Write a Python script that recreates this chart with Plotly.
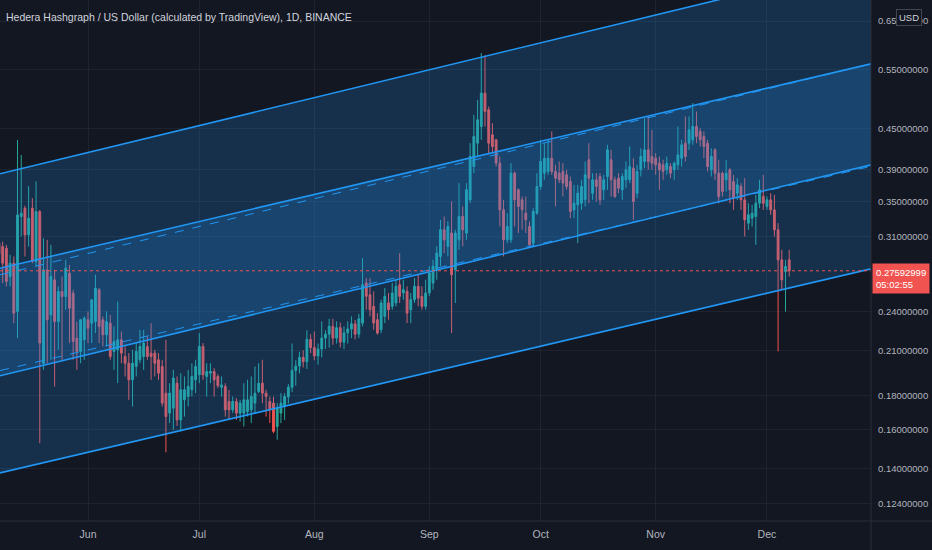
import numpy as np
import pandas as pd
import plotly.graph_objects as go

# HBAR/USD daily candles, 2021-05-08 .. 2021-12-07 (one row per month)
opens = [
    .3033, .2999, .2982, .2706, .2832, .2400, .3324, .3420, .3121, .3420, .2848, .3381, .2009, .2768, .2372, .2675, .2318, .2570, .2526, .2737, .2555, .2190, .2092, .2177,
    .2332, .2305, .2318, .2585, .2332, .2215, .2305, .2092, .2104, .2177, .2056, .2009, .1898, .1987, .2033, .2056, .2128, .2080, .2080, .2033, .1987, .1813, .1693, .1722, .1876, .1654, .1772, .1792, .1834, .1898,
    .1931, .2128, .1920, .1942, .1953, .1920, .1850, .1855, .1762, .1712, .1762, .1693, .1693, .1702, .1712, .1752, .1823, .1876, .1813, .1762, .1752, .1617, .1693, .1732, .179, .185, .196, .199, .205, .202, .218,
    .212, .206, .211, .219, .222, .228, .219, .227, .216, .223, .226, .230, .222, .2306, .2646, .2542, .2442, .2333, .2254, .2360, .2471, .2442, .2471, .2630, .2557, .2571, .2414, .2499, .2616, .2528, .2442,
    .2557, .2646, .2770, .2899, .3177, .3000, .3141, .2770, .3069, .3325, .3141, .3521, .3947, .4276, .4528, .5077, .4795, .4400, .4326, .3993, .3402, .3069, .3069, .3858, .3644, .3521, .3363, .3212, .3034, .3363,
    .3685, .3858, .3880, .4061, .3880, .3858, .3880, .3836, .3749, .3401, .3460, .3480, .3520, .4039, .3602, .3771, .3814, .3643, .3814, .4039, .3771, .3792, .3643, .3771, .3771, .3925, .3600, .3903, .4016, .4179, .4085,
    .4061, .3992, .3970, .3903, .3947, .3903, .3970, .4061, .4276, .4276, .4325, .4528, .4452, .4375, .4276, .3903, .4179, .3858, .3858, .3771, .3903, .3749, .3602, .3685, .3520, .3249, .3306, .3325, .3480, .3561,
    .3441, .3520, .3401, .3176, .2865, .2753, .2865,
]
highs = [
    .3068, .3050, .3016, .2915, .2898, .4324, .4107, .3450, .3690, .3540, .3750, .3400, .3086, .3068, .3016, .2768, .2615, .2706, .2865, .2816, .2585, .2318, .2340, .2359,
    .2400, .2505, .2722, .2600, .2359, .2400, .2372, .2279, .2483, .2240, .2128, .2080, .2104, .2153, .2253, .2253, .2202, .2305, .2104, .2080, .2033, .2177, .1876, .1964, .1920, .1942, .1920, .1964, .2009, .2033,
    .2228, .2153, .2009, .2009, .1975, .1935, .1920, .1876, .1834, .1792, .1782, .1772, .1876, .1898, .1920, .1987, .2009, .2033, .1834, .1792, .1792, .1752, .1813, .1813, .187, .215, .203, .209, .210, .225, .222,
    .224, .215, .232, .225, .234, .234, .232, .231, .228, .232, .236, .233, .238, .2882, .2691, .2691, .2571, .2386, .2499, .2601, .2557, .2646, .2676, .2932, .2676, .2616, .2557, .2691, .2722, .2616, .2676,
    .2802, .2866, .3000, .3287, .3325, .3269, .3501, .3177, .3728, .3441, .3728, .4276, .4714, .4962, .5825, .5780, .4850, .4581, .4340, .4086, .3521, .3363, .3993, .3881, .3660, .3562, .3562, .3268, .3421, .3858,
    .4325, .4276, .4325, .4452, .3970, .4016, .3992, .3903, .3814, .3706, .3706, .3771, .4016, .4276, .3858, .3858, .3858, .3836, .4252, .4179, .3814, .3858, .3858, .4016, .4227, .4061, .3970, .4202, .4659, .4686, .4476,
    .4132, .4085, .4039, .4085, .3992, .4016, .4528, .4325, .4686, .4686, .4905, .4767, .4502, .4452, .4325, .4202, .4202, .4039, .3880, .4039, .3925, .3836, .3792, .3728, .3792, .3480, .3460, .3581, .3771, .3836,
    .3561, .3602, .3581, .3249, .2966, .2865, .2966,
]
lows = [
    .2768, .2645, .2615, .2615, .2305, .2190, .3103, .2898, .2999, .2832, .2800, .1527, .1964, .2009, .2033, .1855, .2104, .2033, .2413, .2153, .2033, .1964, .2009, .2033,
    .2153, .2153, .2228, .2153, .2128, .2128, .2033, .1964, .1876, .2009, .1920, .1772, .1732, .1920, .2009, .1964, .2033, .1898, .1920, .1898, .1732, .1480, .1636, .1599, .1620, .1590, .1673, .1732, .1792, .1813,
    .1876, .1898, .1792, .1876, .1792, .1845, .1792, .1673, .1654, .1693, .1654, .1645, .1617, .1673, .1636, .1693, .1813, .1752, .1673, .1636, .1580, .1545, .1636, .1654, .175, .182, .186, .194, .198, .197, .208,
    .203, .200, .205, .211, .212, .214, .215, .212, .211, .215, .219, .218, .219, .2280, .2414, .2360, .2254, .2216, .2228, .2306, .2333, .2414, .2442, .2471, .2499, .2306, .2306, .2471, .2442, .2414, .2414,
    .2528, .2586, .2676, .2802, .2932, .2899, .2228, .2471, .2966, .3000, .3069, .3481, .3858, .4086, .4326, .4528, .4132, .4132, .3947, .3213, .2899, .3035, .3035, .3213, .3141, .3177, .3141, .3000, .3000, .3344,
    .3643, .3771, .3836, .3836, .3441, .3728, .3561, .3643, .3306, .3306, .3034, .3401, .3441, .3480, .3520, .3500, .3460, .3520, .3643, .3561, .3541, .3602, .3520, .3664, .3728, .3287, .3540, .3814, .3925, .3903, .3903,
    .3836, .3643, .3771, .3836, .3792, .3771, .3903, .3947, .4016, .4179, .4252, .4276, .4227, .4061, .3880, .3814, .3771, .3480, .3561, .3623, .3480, .3401, .3520, .3401, .3104, .3176, .3212, .3017, .3421, .3401,
    .3401, .3344, .3104, .2092, .2585, .2399, .2706,
]
closes = [
    .2925, .2832, .2660, .2832, .2386, .3343, .3362, .3121, .3305, .2848, .3381, .2153, .2768, .2332, .2706, .2318, .2570, .2526, .2784, .2427, .2165, .2092, .2332, .2345,
    .2266, .2497, .2600, .2279, .2215, .2318, .2056, .2165, .2177, .2080, .2009, .1898, .2009, .2092, .2128, .2153, .2056, .2056, .2009, .1942, .1752, .1673, .1813, .1909, .1654, .1834, .1834, .1855, .1920, .1987,
    .2128, .1931, .1953, .1953, .1898, .1860, .1865, .1712, .1712, .1762, .1693, .1752, .1772, .1772, .1792, .1813, .1876, .1813, .1792, .1712, .1590, .1722, .1752, .1792, .185, .196, .199, .205, .202, .218, .212,
    .206, .211, .219, .222, .228, .219, .227, .216, .223, .226, .230, .222, .234, .2630, .2528, .2414, .2306, .2228, .2471, .2528, .2414, .2557, .2616, .2528, .2586, .2386, .2499, .2616, .2513, .2442, .2557,
    .2738, .2802, .2932, .3177, .3069, .3213, .2722, .3141, .3325, .3177, .3644, .4086, .4376, .4634, .5077, .4768, .4276, .4228, .3993, .3402, .3069, .3213, .3858, .3521, .3441, .3402, .3287, .3017, .3382, .3685,
    .4016, .4061, .4061, .3880, .3792, .3771, .3728, .3685, .3382, .3480, .3602, .3685, .3836, .3792, .3771, .3685, .3520, .3771, .4179, .3771, .3561, .3664, .3814, .3903, .3947, .3500, .3880, .4085, .4179, .4016, .3992,
    .3970, .3903, .3880, .3992, .3858, .3992, .4108, .4252, .4085, .4476, .4528, .4375, .4325, .4227, .3947, .4085, .3858, .3561, .3623, .3858, .3643, .3541, .3706, .3520, .3287, .3344, .3363, .3480, .3643, .3480,
    .3520, .3401, .3176, .2865, .2675, .2801, .27592999,
]
dates = pd.date_range("2021-05-08", periods=len(closes), freq="D")

# two parallel channels drawn on the chart (price at left and right edge of the view)
view_start = "2021-05-08 06:43"
view_end = "2021-12-29 01:00"
chan_a_top = [0.3849, 0.7941]
chan_a_bot = [0.1924, 0.3970]
chan_b_top = [0.2783, 0.5615]
chan_b_bot = [0.1379, 0.2778]

price_ticks = [0.124, 0.14, 0.16, 0.18, 0.21, 0.24, 0.31, 0.35, 0.39, 0.45, 0.55, 0.65]
month_ticks = ["2021-06-01", "2021-07-01", "2021-08-01", "2021-09-01", "2021-10-01", "2021-11-01", "2021-12-01"]
month_labels = ["Jun", "Jul", "Aug", "Sep", "Oct", "Nov", "Dec"]

title = "Hedera Hashgraph / US Dollar (calculated by TradingView), 1D, BINANCE"
countdown = "05:02:55"

BG = "#131722"
GRID = "#1f2330"
TXT = "#b2b5be"
BLUE = "#2196f3"
UP = "#26a69a"
DOWN = "#ef5350"
FONT = "Liberation Sans, Arial, sans-serif"

fig = go.Figure()

fig.add_trace(go.Candlestick(
    x=dates, open=opens, high=highs, low=lows, close=closes,
    increasing=dict(line=dict(color=UP, width=1), fillcolor=UP),
    decreasing=dict(line=dict(color=DOWN, width=1), fillcolor=DOWN),
    whiskerwidth=0, hoverinfo="skip", showlegend=False,
))

chan_x = [view_start, view_end]
for top, bot in [(chan_a_top, chan_a_bot), (chan_b_top, chan_b_bot)]:
    fig.add_trace(go.Scatter(
        x=chan_x + chan_x[::-1], y=top + bot[::-1],
        fill="toself", fillcolor="rgba(33,150,243,0.2)",
        line=dict(width=0), mode="lines", hoverinfo="skip", showlegend=False,
    ))

for top, bot in [(chan_a_top, chan_a_bot), (chan_b_top, chan_b_bot)]:
    mid = list(np.sqrt(np.array(top) * np.array(bot)))
    for ys, dash in [(top, "solid"), (bot, "solid"), (mid, "dash")]:
        fig.add_trace(go.Scatter(
            x=chan_x, y=ys, mode="lines",
            line=dict(color=BLUE, width=1.6 if dash == "solid" else 1, dash=dash),
            hoverinfo="skip", showlegend=False,
        ))

last = closes[-1]
fig.add_shape(type="line", xref="paper", x0=0, x1=1, yref="y", y0=last, y1=last,
              line=dict(color=DOWN, width=1, dash="dot"))

# frame lines of the price and time scales
fig.add_shape(type="line", xref="paper", yref="paper", x0=1, x1=1, y0=-0.06, y1=1,
              line=dict(color="#2a2e39", width=1))
fig.add_shape(type="line", xref="paper", yref="paper", x0=0, x1=1.08, y0=0, y1=0,
              line=dict(color="#2a2e39", width=1))

fig.add_annotation(
    text=title, xref="paper", yref="paper", x=0, y=0.967, xshift=4,
    xanchor="left", yanchor="middle", showarrow=False,
    font=dict(family=FONT, size=10.5, color="#d1d4dc"),
)
fig.add_annotation(
    text=f"{last:.8f}<br>{countdown}", xref="paper", yref="y", x=1, y=np.log10(last),
    xanchor="left", yanchor="top", yshift=8, xshift=1, showarrow=False, align="left",
    bgcolor="#f05350", borderpad=3,
    font=dict(family=FONT, size=9.5, color="#ffffff"),
)
fig.add_annotation(
    text="USD", xref="paper", yref="paper", x=1.0436, y=0.966,
    xanchor="center", yanchor="middle", showarrow=False,
    bgcolor=BG, bordercolor="#434651", borderwidth=1, borderpad=2,
    font=dict(family=FONT, size=9.5, color="#d1d4dc"),
)

fig.update_layout(
    width=932, height=550, autosize=False,
    margin=dict(l=0, r=61, t=0, b=29),
    paper_bgcolor=BG, plot_bgcolor=BG,
    font=dict(family=FONT, size=10, color=TXT),
    showlegend=False,
    xaxis=dict(
        type="date", range=[view_start, view_end], rangeslider=dict(visible=False),
        tickvals=month_ticks, ticktext=month_labels,
        showgrid=True, gridcolor=GRID, gridwidth=1, zeroline=False,
        ticks="", ticklabelstandoff=5, tickfont=dict(size=10.5, color=TXT),
    ),
    yaxis=dict(
        type="log", side="right",
        range=[np.log10(0.1169), np.log10(0.699)],
        tickvals=price_ticks, ticktext=[f"{v:.8f}" for v in price_ticks],
        showgrid=True, gridcolor=GRID, gridwidth=1, zeroline=False,
        ticks="", ticklabelstandoff=6, tickfont=dict(size=9.5, color=TXT),
    ),
)

fig.write_html("out.html", config={"displayModeBar": False},
               post_script="document.body.style.margin='0px';")
